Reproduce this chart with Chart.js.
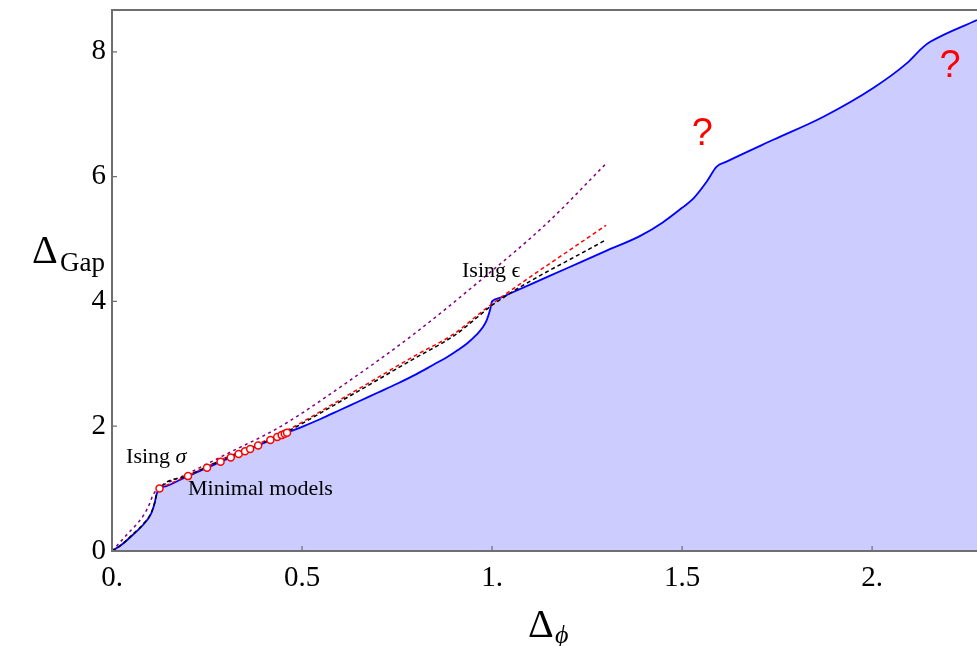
<!DOCTYPE html>
<html>
<head>
<meta charset="utf-8">
<script src="https://cdn.jsdelivr.net/npm/chart.js@4.4.1/dist/chart.umd.min.js"></script>
<style>
  html, body { margin: 0; padding: 0; background: #fff; }
  #wrap { width: 977px; height: 646px; }
</style>
</head>
<body>
<div id="wrap"><canvas id="myChart" width="977" height="646"></canvas></div>
<script>
// bord de la région permise (courbe bleue)
const boundX = [0, 0.025, 0.055, 0.082, 0.103, 0.112, 0.117, 0.125, 0.143, 0.169, 0.2, 0.25, 0.2857, 0.3125, 0.35, 0.3846, 0.4167, 0.4605, 0.5, 0.55, 0.6, 0.65, 0.7, 0.75, 0.8, 0.85, 0.88, 0.91, 0.935, 0.96, 0.975, 0.986, 0.995, 1.0, 1.02, 1.05, 1.1, 1.2, 1.3, 1.39, 1.45, 1.5, 1.53, 1.565, 1.591, 1.617, 1.74, 1.872, 2.003, 2.09, 2.135, 2.153, 2.276];
const boundY = [0, 0.1, 0.26, 0.42, 0.6, 0.76, 0.9, 1.0, 1.04, 1.11, 1.2, 1.333, 1.43, 1.5, 1.6, 1.692, 1.778, 1.895, 1.99, 2.12, 2.26, 2.4, 2.54, 2.68, 2.83, 3.0, 3.1, 3.22, 3.33, 3.47, 3.58, 3.7, 3.87, 4.0, 4.055, 4.135, 4.27, 4.54, 4.81, 5.05, 5.27, 5.5, 5.65, 5.92, 6.16, 6.24, 6.59, 6.96, 7.42, 7.81, 8.08, 8.16, 8.51];

// courbes en pointillés
const purpleX = [0, 0.042, 0.068, 0.086, 0.099, 0.108, 0.125, 0.2, 0.3, 0.442, 0.618, 0.793, 0.968, 1.144, 1.297];
const purpleY = [0, 0.28, 0.45, 0.6, 0.76, 0.9, 1.01, 1.24, 1.55, 1.99, 2.7, 3.47, 4.33, 5.25, 6.19];

const redX = [0.125, 0.2, 0.3, 0.45, 0.63, 0.8, 0.9, 0.968, 1.0, 1.3];
const redY = [1.0, 1.21, 1.5, 1.9, 2.53, 3.14, 3.48, 3.81, 3.96, 5.22];

const blackX = [0, 0.025, 0.055, 0.082, 0.103, 0.112, 0.117, 0.125, 0.2, 0.3, 0.45, 0.63, 0.8, 0.9, 0.968, 1.0, 1.3];
const blackY = [0, 0.1, 0.27, 0.43, 0.61, 0.77, 0.9, 1.0, 1.21, 1.49, 1.88, 2.5, 3.1, 3.45, 3.78, 3.94, 4.99];

// modèles minimaux (cercles rouges)
const minimalX = [0.125, 0.2, 0.25, 0.2857, 0.3125, 0.3333, 0.35, 0.3636, 0.3846, 0.4167, 0.4348, 0.4464, 0.4545, 0.4605];
const minimalY = [1.0, 1.2, 1.333, 1.429, 1.5, 1.556, 1.6, 1.636, 1.692, 1.778, 1.826, 1.857, 1.879, 1.895];

const xTicks = [0, 0.5, 1, 1.5, 2];
const yTicks = [0, 2, 4, 6, 8];

const toPoints = (xs, ys) => xs.map((x, i) => ({ x: x, y: ys[i] }));

const serif = '"Liberation Serif", "Times New Roman", serif';
const frameColor = '#6f6f6f';

// cadre, petites graduations, textes
const decor = {
  id: 'decor',
  afterDraw(chart) {
    const ctx = chart.ctx;
    const a = chart.chartArea;
    const xs = chart.scales.x, ys = chart.scales.y;
    ctx.save();
    ctx.strokeStyle = frameColor;
    ctx.lineWidth = 2;
    ctx.beginPath();
    ctx.moveTo(a.right + 2, a.top);
    ctx.lineTo(a.left, a.top);
    ctx.lineTo(a.left, a.bottom);
    ctx.lineTo(a.right + 2, a.bottom);
    ctx.stroke();

    ctx.lineWidth = 1.2;
    ctx.beginPath();
    xTicks.forEach(v => {
      const px = xs.getPixelForValue(v);
      ctx.moveTo(px, a.bottom);
      ctx.lineTo(px, a.bottom - 5);
    });
    yTicks.forEach(v => {
      const py = ys.getPixelForValue(v);
      ctx.moveTo(a.left, py);
      ctx.lineTo(a.left + 5, py);
    });
    ctx.stroke();

    // étiquettes dans le graphique
    const label = (text, x, y, font, color) => {
      ctx.font = font;
      ctx.fillStyle = color;
      ctx.fillText(text, xs.getPixelForValue(x), ys.getPixelForValue(y));
    };
    ctx.textAlign = 'left';
    ctx.textBaseline = 'alphabetic';
    label('Ising ', 0.037, 1.41, '22px ' + serif, '#000');
    ctx.font = '22px ' + serif;
    const w1 = ctx.measureText('Ising ').width;
    ctx.font = 'italic 22px ' + serif;
    ctx.fillText('σ', xs.getPixelForValue(0.037) + w1, ys.getPixelForValue(1.41));
    label('Minimal models', 0.2, 0.9, '22px ' + serif, '#000');
    label('Ising ϵ', 0.921, 4.39, '22px ' + serif, '#000');

    ctx.textAlign = 'center';
    label('?', 1.553, 6.5, '38px "Liberation Sans", Arial, sans-serif', '#ff0000');
    label('?', 2.205, 7.59, '38px "Liberation Sans", Arial, sans-serif', '#ff0000');

    // titres des axes
    ctx.fillStyle = '#000';
    ctx.textAlign = 'left';
    ctx.font = '40px ' + serif;
    ctx.fillText('Δ', 32, 263);
    ctx.font = '27px ' + serif;
    ctx.fillText('Gap', 60, 271);

    ctx.font = '40px ' + serif;
    ctx.fillText('Δ', 528, 637);
    ctx.font = 'italic 26px ' + serif;
    ctx.fillText('ϕ', 555, 643);
    ctx.restore();
  }
};

const ctx = document.getElementById('myChart').getContext('2d');
const myChart = new Chart(ctx, {
  type: 'line',
  data: {
    datasets: [
      {
        label: 'Minimal models',
        data: toPoints(minimalX, minimalY),
        showLine: false,
        pointRadius: 3.5,
        pointBorderWidth: 1.5,
        pointBorderColor: '#ff0000',
        pointBackgroundColor: '#ffffff',
        order: 0
      },
      {
        label: 'black',
        data: toPoints(blackX, blackY),
        borderColor: '#000000',
        borderWidth: 1.5,
        borderDash: [4, 3],
        pointRadius: 0,
        cubicInterpolationMode: 'monotone',
        fill: false,
        order: 1
      },
      {
        label: 'red',
        data: toPoints(redX, redY),
        borderColor: '#ff0000',
        borderWidth: 1.5,
        borderDash: [4, 3],
        pointRadius: 0,
        cubicInterpolationMode: 'monotone',
        fill: false,
        order: 2
      },
      {
        label: 'purple',
        data: toPoints(purpleX, purpleY),
        borderColor: '#800080',
        borderWidth: 1.5,
        borderDash: [3, 3.5],
        pointRadius: 0,
        cubicInterpolationMode: 'monotone',
        fill: false,
        order: 3
      },
      {
        label: 'bound',
        data: toPoints(boundX, boundY),
        borderColor: '#0000ff',
        borderWidth: 1.8,
        backgroundColor: '#ccccff',
        pointRadius: 0,
        cubicInterpolationMode: 'monotone',
        fill: 'origin',
        order: 4
      }
    ]
  },
  options: {
    responsive: false,
    animation: false,
    layout: { autoPadding: false, padding: { top: 10, right: 0, left: 0, bottom: 0 } },
    plugins: {
      legend: { display: false },
      tooltip: { enabled: false }
    },
    scales: {
      x: {
        type: 'linear',
        min: 0,
        max: 2.276,
        grid: { display: false, drawTicks: false },
        border: { display: false },
        afterFit(scale) {
          scale.height = 95;
          scale.paddingLeft = 0;
          scale.paddingRight = 0;
        },
        ticks: {
          stepSize: 0.5,
          includeBounds: false,
          padding: 10,
          color: '#000',
          maxRotation: 0,
          font: { family: serif, size: 29 },
          callback: v => Number.isInteger(v) ? v + '.' : String(v)
        }
      },
      y: {
        type: 'linear',
        min: 0,
        max: 8.67,
        grid: { display: false, drawTicks: false },
        border: { display: false },
        afterFit(scale) {
          scale.width = 112;
          scale.paddingTop = 0;
          scale.paddingBottom = 0;
        },
        ticks: {
          stepSize: 2,
          includeBounds: false,
          padding: 6,
          color: '#000',
          font: { family: serif, size: 29 },
          callback: v => String(v)
        }
      }
    }
  },
  plugins: [decor]
});
</script>
</body>
</html>
